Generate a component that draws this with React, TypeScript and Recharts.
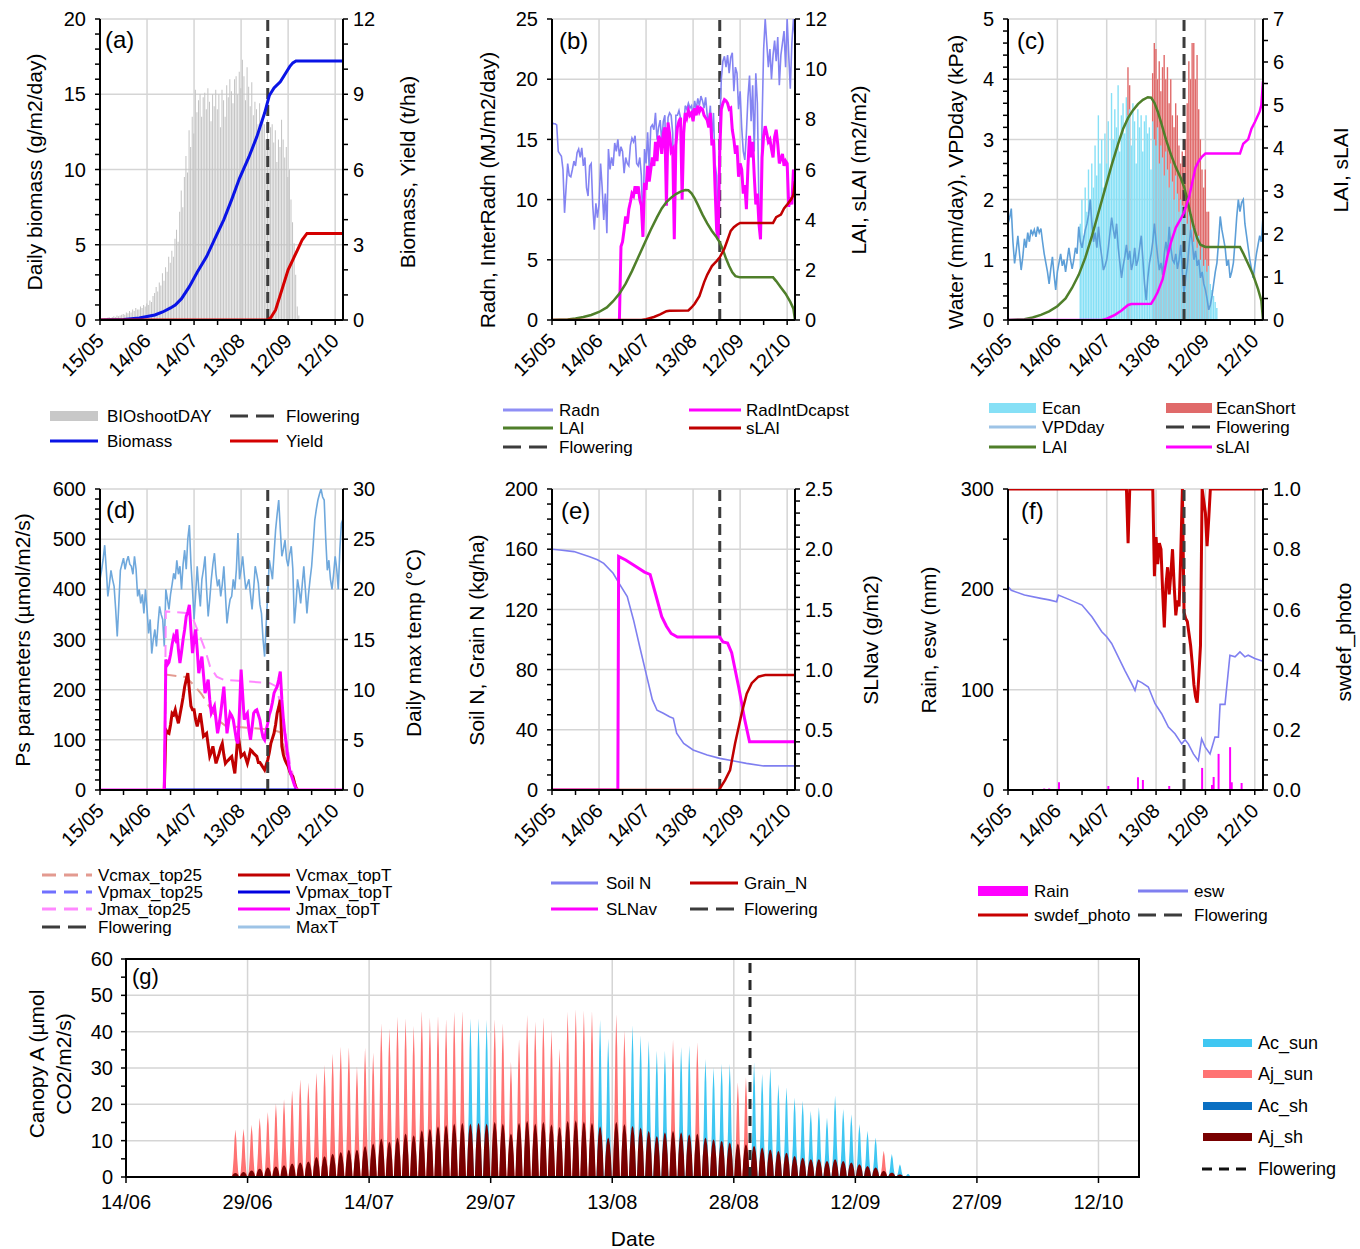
import React from 'react';
import {
  ComposedChart, Line, Bar, Area, XAxis, YAxis, CartesianGrid, ReferenceLine, ReferenceArea,
} from 'recharts';

const FONT = '"Liberation Sans", Arial, Helvetica, sans-serif';

// x axis = day of year (15/05 = 135)
const dayTicks = [135, 150, 165, 180, 195, 210, 225, 240, 255, 270, 285];
const labelDays = [135, 165, 195, 225, 255, 285];
const dayLabels = ['15/05', '14/06', '14/07', '13/08', '12/09', '12/10'];
const gridDays = [165, 195, 225, 255, 285];
const gTicks = [165, 180, 195, 210, 225, 240, 255, 270, 285];
const gLabels = ['14/06', '29/06', '14/07', '29/07', '13/08', '28/08', '12/09', '27/09', '12/10'];
const floweringDay = 242;

// (a) biomass
const bioStart = 138;
const bioShootDay = [
  0.1, 0.1, 0.15, 0.2, 0.1, 0.2, 0.25, 0.2, 0.3, 0.25, 0.3, 0.35,
  0.4, 0.35, 0.5, 0.45, 0.6, 0.5, 0.7, 0.6, 0.8, 0.7,
  0.7, 0.9, 0.8, 1.0, 0.9, 1.1, 1.0, 1.3, 1.2, 1.6,
  1.8, 2.2, 1.9, 2.5, 2.3, 3.1, 2.6, 3.5, 3.2, 4.2,
  3.8, 4.6, 4.2, 5.4, 6.0, 5.2, 7.2, 8.6, 7.5, 9.5,
  10.9, 9.8, 12.6, 11.5, 13.5, 12.4, 15.3, 13.8, 14.6, 15.0,
  13.5, 14.8, 15.1, 14.0, 15.4, 14.5, 13.2, 15.0, 14.2, 15.3,
  14.0, 15.0, 12.8, 15.3, 14.6, 13.5, 15.6, 14.8, 16.0, 15.2,
  14.4, 16.0, 16.2, 15.0, 16.5, 15.4, 17.3, 16.2, 14.6, 16.8,
  15.5, 14.2, 15.8, 13.6, 14.5, 14.0, 13.0, 14.4, 12.8, 13.3,
  13.0, 12.0, 13.3, 11.5, 12.8, 13.0, 11.8, 12.6, 10.5, 12.0,
  11.5, 13.3, 12.0, 10.8, 11.5, 9.5, 10.0, 8.0, 6.5, 5.1, 3.0, 0.9, 0.3,
];
const biomassDays = [135, 150, 160, 170, 175, 180, 183, 187, 192, 197, 203, 208, 214, 219, 224, 230, 235, 240, 243, 246, 250, 253, 256, 258, 260, 290];
const biomassVals = [0, 0.02, 0.08, 0.2, 0.32, 0.48, 0.6, 0.85, 1.33, 1.9, 2.53, 3.2, 4.0, 4.8, 5.65, 6.5, 7.3, 8.25, 8.95, 9.25, 9.5, 9.8, 10.1, 10.25, 10.33, 10.33];
const yieldDays = [135, 242, 244, 247, 251, 255, 258, 261, 264, 267, 290];
const yieldVals = [0, 0, 0.1, 0.4, 1.2, 2.0, 2.4, 2.8, 3.2, 3.45, 3.45];

// (b) radiation, LAI
const radn = [
  16.4, 16.3, 16.3, 16.2, 14.0, 13.8, 13.6, 12.5, 8.9, 11.0,
  13.0, 12.0, 11.9, 12.5, 13.2, 12.8, 13.9, 14.2, 13.5, 14.3,
  12.8, 13.5, 11.0, 10.3, 12.8, 13.0, 9.5, 7.5, 9.7, 8.5,
  9.6, 13.0, 11.0, 8.3, 10.5, 7.2, 14.2, 12.5, 13.5, 12.8,
  14.7, 14.0, 15.0, 13.6, 14.4, 14.0, 12.2, 13.5, 13.0, 12.8,
  14.5, 15.1, 14.8, 15.3, 13.0, 12.8, 13.5, 12.0, 7.5, 14.2,
  13.0, 15.6, 12.5, 16.0, 16.2, 15.8, 17.2, 15.0, 16.0, 16.6,
  14.8, 16.5, 17.0, 10.0, 16.8, 17.2, 17.0, 15.5, 7.0, 17.0,
  17.0, 17.4, 16.8, 10.5, 16.0, 17.8, 17.5, 18.0, 17.6, 17.8,
  17.0, 18.2, 17.5, 18.4, 17.8, 18.6, 18.2, 17.6, 18.5, 17.0,
  16.5, 17.8, 15.0, 17.2, 13.0, 12.0, 8.0, 16.0, 20.0, 21.5,
  21.9, 21.0, 22.0, 20.5, 21.8, 22.2, 19.0, 21.0, 20.5, 17.5,
  19.0, 16.0, 14.0, 13.3, 15.5, 18.5, 20.3, 16.5, 19.5, 14.0,
  20.5, 18.0, 9.5, 7.2, 16.5, 22.5, 25.0, 23.0, 21.0, 22.5,
  20.0, 22.0, 23.2, 21.5, 23.5, 19.5, 22.0, 23.0, 24.0, 21.0,
  25.0, 22.0, 19.2, 23.0, 25.0, 23.5,
];
const radIntStart = 178;
const radIntDcapst = [
  0,
  6.1, 6.5, 7.5, 8.6, 8.0, 9.2, 9.8, 10.5, 10.3, 11.1,
  10.5, 11.1, 10.0, 9.5, 6.9, 11.4, 10.8, 12.8, 11.5, 12.5,
  13.5, 12.8, 14.8, 13.2, 15.3, 15.0, 13.8, 15.5, 16.0, 9.5,
  16.4, 15.5, 14.0, 14.2, 6.7, 14.5, 16.0, 16.5, 16.8, 10.0,
  15.5, 17.2, 16.8, 17.4, 17.0, 17.2, 16.5, 17.6, 17.0, 17.8,
  17.3, 17.6, 17.5, 17.0, 16.8, 16.6, 16.0, 17.2, 14.5, 15.0,
  11.0, 7.5, 6.7, 14.0, 17.5, 18.0, 18.3, 18.2, 18.0, 17.5,
  17.6, 15.8, 15.0, 13.8, 14.5, 11.9, 13.0, 12.5, 10.5, 11.2,
  9.2, 12.8, 15.3, 13.5, 14.8, 12.0, 9.6, 10.5, 8.0, 6.7,
  13.5, 15.3, 16.1, 15.5, 14.8, 15.0, 14.2, 13.5, 15.2, 15.8,
  14.6, 13.0, 13.4, 13.8, 12.8, 13.2, 13.0, 9.4, 10.2, 9.6,
  12.5, 11.5,
];
const laiDays = [135, 145, 150, 155, 160, 165, 170, 174, 178, 182, 186, 190, 194, 198, 202, 205, 208, 211, 214, 217, 220, 222, 224, 226, 228, 231, 234, 237, 240, 242, 244, 246, 248, 250, 252, 255, 276, 278, 281, 284, 287, 289, 290];
const laiVals = [0, 0.02, 0.06, 0.12, 0.2, 0.32, 0.5, 0.75, 1.05, 1.45, 1.95, 2.5, 3.05, 3.6, 4.1, 4.45, 4.7, 4.88, 5.02, 5.12, 5.18, 5.17, 5.05, 4.85, 4.6, 4.2, 3.85, 3.55, 3.3, 3.1, 2.8, 2.45, 2.15, 1.9, 1.75, 1.7, 1.7, 1.55, 1.3, 1.05, 0.72, 0.45, 0.0];
const slaiDays = [135, 192, 195, 200, 204, 208, 210, 222, 224, 226, 229, 232, 234, 237, 240, 242, 245, 247, 249, 251, 253, 255, 276, 278, 281, 283, 285, 288, 289, 290];
const slaiVals = [0, 0, 0.03, 0.12, 0.22, 0.35, 0.37, 0.38, 0.5, 0.65, 0.95, 1.5, 1.8, 2.15, 2.35, 2.5, 2.85, 3.2, 3.55, 3.7, 3.8, 3.87, 3.87, 4.1, 4.2, 4.45, 4.6, 4.85, 5.0, 5.55];

// (c) water
const ecanStart = 179;
const ecan = [
  1.6, 2.0, 1.4, 2.2, 1.8, 2.5, 2.0, 2.6, 2.2, 2.9,
  2.4, 3.4, 2.6, 3.0, 2.2, 3.1, 2.6, 3.3, 2.5, 3.77,
  3.0, 3.5, 3.2, 3.9, 2.8, 3.4, 3.6, 3.1, 3.7, 3.4,
  3.5, 2.9, 3.6, 3.3, 2.6, 3.5, 3.2, 3.4, 2.8, 3.3,
  3.4, 3.1, 3.2, 2.5, 3.3, 3.0, 2.9, 3.2, 2.6, 2.9,
  2.7, 2.4, 2.8, 2.5, 2.2, 2.6, 2.3, 2.0, 2.4, 2.1,
  1.8, 2.0, 1.9, 1.7, 1.9, 1.6, 1.8, 1.4, 1.7, 1.3,
  1.5, 1.2, 1.4, 1.0, 1.2, 0.9, 1.0, 0.8, 0.9, 0.6,
  0.5, 0.4, 0.3, 0.2,
];
const ecanShortStart = 208;
const ecanShort = [
  4.2, 3.9, 0, 0, 0, 0, 0, 0, 0, 0,
  0, 0, 0, 0, 0, 4.1, 4.6, 4.5, 4.0, 4.3,
  3.8, 4.2, 4.4, 4.0, 4.2, 3.6, 4.0, 3.4, 3.2, 3.6,
  3.4, 2.9, 2.6, 2.8, 2.6, 3.0, 3.6, 4.3, 4.0, 4.6,
  4.6, 4.0, 4.4, 3.5, 3.0, 2.5, 2.2, 2.5, 1.8, 1.8,
];
const vpdDay = [
  1.6, 1.7, 1.85, 1.3, 0.94, 1.15, 1.4, 1.1, 0.83, 1.05,
  1.35, 1.2, 1.45, 1.3, 1.5, 1.42, 1.5, 1.38, 1.55, 1.45,
  1.52, 1.3, 1.1, 0.95, 0.8, 0.6, 0.85, 1.05, 0.75, 0.5,
  0.8, 0.95, 1.1, 0.9, 1.0, 0.8, 1.0, 1.2, 1.0, 0.85,
  1.0, 1.2, 1.1, 1.55, 1.3, 1.2, 1.35, 1.5, 1.6, 1.75,
  2.0, 1.6, 1.3, 1.45, 1.2, 1.55, 1.25, 1.05, 0.83, 0.9,
  1.0, 1.2, 1.45, 1.7, 1.5, 1.35, 1.6, 1.2, 0.95, 0.7,
  0.9, 1.05, 1.25, 1.0, 1.15, 0.83, 0.95, 1.2, 0.9, 1.0,
  1.2, 1.4, 1.0, 0.6, 0.33, 0.7, 0.95, 1.1, 1.3, 1.6,
  1.3, 1.05, 0.83, 0.95, 0.75, 1.1, 1.3, 1.1, 1.55, 1.2,
  1.0, 0.95, 1.1, 0.85, 1.0, 1.25, 0.8, 0.45, 0.7, 0.9,
  1.2, 1.5, 1.3, 1.0, 1.15, 0.9, 1.0, 0.7, 0.8, 0.6,
  0.5, 0.35, 0.17, 0.25, 0.4, 0.6, 0.8, 0.95, 1.3, 1.72,
  1.5, 1.35, 1.2, 0.9, 1.0, 0.7, 0.8, 0.95, 1.3, 1.7,
  2.0, 1.8, 1.95, 2.0, 1.6, 1.4, 1.2, 1.0, 0.85, 0.7,
  0.9, 1.1, 1.25, 1.4, 1.3, 1.72,
];

// (d) photosynthesis parameters
const maxT = [
  21.0, 21.9, 23.0, 24.4, 22.0, 19.3, 20.5, 21.9, 21.0, 20.3,
  18.0, 15.3, 18.5, 21.9, 22.5, 23.1, 22.0, 22.8, 23.3, 22.5,
  22.3, 21.5, 23.3, 22.0, 19.3, 20.0, 18.6, 19.5, 17.6, 20.0,
  18.0, 15.6, 17.0, 13.6, 15.0, 16.0, 14.3, 16.5, 18.3, 17.5,
  17.0, 14.3, 20.0, 19.0, 18.0, 19.5, 20.5, 21.6, 21.0, 22.9,
  21.5, 22.3, 20.0, 22.5, 23.9, 22.0, 25.0, 26.4, 22.6, 20.0,
  17.0, 19.5, 22.3, 20.0, 18.3, 21.0, 22.0, 23.3, 20.0, 17.3,
  19.0, 21.0, 22.5, 23.6, 21.5, 20.3, 21.0, 19.3, 20.5, 22.3,
  19.5, 16.6, 18.0, 19.0, 19.3, 21.0, 20.0, 22.0, 25.6, 21.0,
  22.0, 23.3, 21.5, 20.0, 20.5, 21.0, 19.5, 18.0, 20.0, 22.3,
  21.5, 20.6, 18.5, 17.6, 15.0, 13.3, 16.5, 19.6, 22.9, 22.0,
  21.0, 23.5, 25.9, 27.5, 28.9, 26.0, 23.3, 24.0, 24.9, 23.0,
  22.3, 23.5, 24.3, 22.0, 16.6, 18.5, 21.0, 20.0, 18.6, 20.5,
  22.3, 20.0, 17.6, 19.5, 21.0, 22.3, 24.5, 26.9, 28.0, 28.9,
  29.5, 30.0, 29.2, 28.9, 25.0, 21.9, 22.9, 21.0, 20.0, 21.5,
  23.3, 22.0, 20.0, 24.0, 26.6, 27.0,
];
const psStart = 176;
const jmaxTopT = [
  0,
  260, 250, 255, 270, 290, 306, 300, 320, 280, 253,
  275, 300, 320, 346, 355, 369, 320, 273, 300, 320,
  280, 233, 250, 266, 230, 193, 205, 220, 180, 153,
  160, 167, 140, 113, 130, 153, 180, 206, 160, 113,
  135, 153, 148, 140, 120, 100, 93, 160, 240, 190,
  140, 148, 153, 120, 100, 125, 153, 158, 160, 150,
  140, 120, 105, 100, 118, 133, 150, 160, 175, 193,
  200, 206, 220, 236, 180, 140, 110, 87, 60, 40,
  30, 20, 10, 3, 0,
];
const vcmaxTopT = [
  0,
  120, 115, 113, 130, 153, 150, 160, 145, 133, 150,
  167, 185, 206, 220, 233, 200, 167, 160, 160, 140,
  127, 140, 153, 130, 107, 110, 113, 90, 67, 75,
  87, 70, 53, 63, 73, 85, 93, 70, 53, 57,
  60, 64, 67, 50, 33, 70, 113, 90, 67, 70,
  73, 63, 53, 65, 80, 77, 73, 70, 67, 55,
  55, 50, 45, 40, 50, 60, 75, 93, 103, 113,
  130, 153, 165, 180, 87, 70, 60, 53, 47, 37,
  30, 27, 15, 5, 0,
];
const jmax25Days = [176, 177, 190, 194.5, 198.8, 202, 205.2, 209.4, 213.7, 243.4, 247.7, 251.9, 256.2, 260.4];
const jmax25Vals = [0, 356, 353, 340, 306, 280, 246, 226, 220, 213, 206, 140, 53, 0];
const vcmax25Days = [176, 177, 190, 196, 200, 205, 210, 215, 225, 245, 250, 252, 256, 260];
const vcmax25Vals = [0, 230, 225, 205, 190, 165, 140, 128, 125, 120, 115, 90, 40, 0];
const vpmaxDays = [177, 260];
const vpmaxVals = [0, 0];

// (e) nitrogen
const soilNDays = [135, 140, 149, 159, 164, 168, 174, 178, 183, 187, 191, 195, 199, 202, 206, 210, 212.4, 214.5, 219, 225, 234, 242, 251, 259, 270, 290];
const soilNVals = [160, 159.5, 158.4, 155, 153, 150.6, 144, 137, 128.5, 113, 95, 77.5, 60, 53, 51, 48.7, 47.6, 37.7, 31, 26.6, 23.3, 21, 19.3, 17.7, 16, 16];
const slnDays = [135, 177, 177.5, 182, 188, 194, 197.6, 201, 205, 208, 211, 215, 242, 244, 247, 249.6, 254, 258, 261, 290];
const slnVals = [0, 0, 1.94, 1.91, 1.86, 1.81, 1.79, 1.63, 1.44, 1.36, 1.3, 1.27, 1.27, 1.23, 1.22, 1.14, 0.86, 0.58, 0.4, 0.4];
const grainNDays = [135, 241.5, 245.4, 248.6, 251.8, 256, 259.2, 262.4, 266.7, 271, 290];
const grainNVals = [0, 0, 6.6, 13.3, 31, 51, 64, 71, 75.3, 76.4, 76.4];

// (f) soil water
const rainDays = [157, 160, 166, 196, 214, 217, 233, 242, 253, 259, 260, 263, 268, 270, 271, 277, 281];
const rainVals = [1.5, 1.5, 7.7, 4, 12.7, 10, 4, 6.7, 22, 5, 13, 36, 1, 42.7, 7.7, 7, 1];
const eswDays = [135, 137, 145, 155, 160, 164.6, 165.6, 172, 180, 186, 192, 195, 198, 202, 206, 210.2, 212.2, 213.8, 216.3, 220.3, 224.4, 228.4, 232.5, 236.5, 240.6, 242.6, 244.6, 247.7, 250.7, 252.7, 254.8, 257.8, 260.8, 262.9, 263.9, 266.9, 269.9, 273, 276, 279, 281, 285, 290];
const eswVals = [202.7, 199, 194.3, 191, 189.5, 187.7, 194.3, 190, 184.3, 172.7, 157.7, 152.7, 146, 132.7, 119.3, 106, 99.3, 109, 107, 102.7, 86, 76, 62.7, 56, 46, 50, 46, 36, 29.3, 51, 43, 36, 52.7, 52.7, 85.3, 85.3, 134.3, 132.7, 137.7, 132.7, 134.3, 131, 128.3];
const swdefStart = 205;
const swdefPhoto = [
  1, 1, 1, 0.82, 1,
  1, 1, 1, 1, 1, 1, 1, 1, 1, 1, 1, 1, 1,
  1, 0.71, 0.84, 0.75, 0.82, 0.8, 0.66, 0.54, 0.68, 0.74,
  0.65, 0.72, 0.8, 0.68, 0.58, 0.63, 0.61, 0.78, 1.0, 0.59,
  0.57, 0.56, 0.52, 0.48, 0.42, 0.35, 0.31, 0.29, 0.38, 0.48,
  1.0, 0.96, 0.92, 0.81, 0.9, 1.0, 1.0,
];

// (g) canopy assimilation, daily peaks
const gStart = 178;
const sunPeak = [
  13.1, 13.3, 14.4, 16.3, 17.9, 20.2, 21.4, 23.9, 26.9, 26.0,
  28.7, 30.8, 34.0, 35.9, 35.7, 30.5, 35.6, 34.3, 42.3, 40.9,
  44.2, 43.7, 41.6, 45.7, 44.0, 44.4, 43.5, 45.5, 45.7, 43.7,
  43.7, 43.3, 43.5, 42.3, 31.7, 37.9, 44.6, 42.8, 44.0, 40.5,
  35.4, 45.5, 46.2, 45.8, 45.7, 43.3, 38.1, 44.8, 40.4, 41.8,
  39.0, 37.6, 34.8, 34.8, 37.8, 35.8, 36.2, 37.1, 32.5, 30.2,
  31.2, 31.2, 26.1, 27.5, 31.6, 28.4, 30.2, 25.6, 24.7, 21.9,
  21.0, 18.2, 19.2, 16.4, 22.4, 18.7, 17.3, 14.6, 12.7, 10.9,
  7.2, 6.3, 3.5, 0.9,
];
// limiting process of the sunlit peak each day: j = electron transport (Aj), c = Rubisco (Ac)
const sunLimit =
  'jjjjjjjjjjjjjjjjjjjjjjjjjjjjj' + 'ccc' + 'jjjjjjjjjjjjj' + 'cc' + 'jj' + 'ccccc' + 'j' + 'cc' + 'j' +
  'cccc' + 'jj' + 'cccccccccccccccc' + 'j' + 'ccc';
const shadePeak = [
  1.1, 1.4, 1.8, 2.3, 2.6, 2.9, 3.2, 3.7, 4.0, 4.3,
  5.5, 5.7, 6.4, 6.9, 7.5, 7.5, 8.5, 9.2, 10.6, 9.7,
  10.9, 12.0, 11.5, 12.9, 13.3, 14.0, 14.3, 14.7, 14.9, 14.7,
  14.9, 14.7, 15.2, 14.7, 12.0, 14.9, 15.5, 14.7, 15.2, 14.5,
  13.8, 15.5, 15.6, 15.3, 14.9, 14.0, 10.9, 15.2, 14.6, 14.1,
  13.6, 12.7, 11.3, 12.3, 12.7, 12.3, 11.8, 12.0, 10.9, 10.4,
  10.0, 9.5, 9.2, 9.0, 8.6, 8.1, 7.6, 7.2, 6.7, 5.8,
  5.3, 4.9, 4.9, 4.4, 4.9, 4.4, 4.0, 3.5, 3.0, 2.6,
  1.7, 1.2, 0.7, 0.3,
];
// within-day profile of one diurnal peak
const dayFrac = [0.05, 0.16, 0.28, 0.39, 0.5, 0.61, 0.72, 0.84, 0.95];
const sunShape = [0, 0.12, 0.4, 0.8, 1, 0.8, 0.4, 0.12, 0];
const shadeShape = [0, 0.5, 0.8, 0.95, 1, 0.95, 0.8, 0.5, 0];

type Pt = { x: number; y: number };
const pts = (xs: number[], ys: number[]): Pt[] => xs.map((x, i) => ({ x, y: ys[i] }));
const daily = (start: number, ys: number[]): Pt[] => ys.map((y, i) => ({ x: start + i, y }));

const bioTable = daily(bioStart, bioShootDay);
const ecanTable = ecan.map((v, i) => {
  const d = ecanStart + i;
  const k = d - ecanShortStart;
  return { x: d, ecan: v, short: k >= 0 && k < ecanShort.length ? ecanShort[k] : 0 };
});
const gTable = sunPeak.flatMap((p, i) =>
  dayFrac.map((f, k) => ({
    x: gStart + i + f,
    acSun: sunLimit[i] === 'c' ? p * sunShape[k] : 0,
    ajSun: sunLimit[i] === 'j' ? p * sunShape[k] : 0,
    acSh: 0,
    ajSh: shadePeak[i] * shadeShape[k],
  })),
);

// ---------- chart pieces ----------
type Rect = { x0: number; x1: number; y0: number; y1: number };
const RA: Rect = { x0: 100, x1: 343, y0: 19, y1: 320 };
const RB: Rect = { x0: 552, x1: 795, y0: 19, y1: 320 };
const RC: Rect = { x0: 1008, x1: 1263, y0: 19, y1: 320 };
const RD: Rect = { x0: 100, x1: 343, y0: 489, y1: 790 };
const RE: Rect = { x0: 552, x1: 795, y0: 489, y1: 790 };
const RF: Rect = { x0: 1008, x1: 1263, y0: 489, y1: 790 };
const RG: Rect = { x0: 126, x1: 1139, y0: 959, y1: 1177 };
const AXW = 60;

const Frame = ({ r, data, children, right = true, xh = 70 }: { r: Rect; data?: any[]; children: React.ReactNode; right?: boolean; xh?: number }) => (
  <div style={{ position: 'absolute', left: r.x0 - AXW, top: r.y0 - 10 }}>
    <ComposedChart
      width={r.x1 - r.x0 + AXW + (right ? AXW : 10)}
      height={r.y1 - r.y0 + 10 + xh}
      data={data}
      margin={{ top: 10, right: right ? 0 : 10, bottom: 0, left: 0 }}
    >
      {children}
    </ComposedChart>
  </div>
);

const renderDateTick = (props: any) => {
  const { x, y, payload } = props;
  const i = labelDays.indexOf(payload.value);
  if (i < 0) return <g />;
  const ax = x + 5;
  const ay = y + 15;
  return (
    <text x={ax} y={ay} transform={`rotate(-45 ${ax} ${ay})`} textAnchor="end" fontSize={20} fill="#000">
      {dayLabels[i]}
    </text>
  );
};

const dateAxis = () => (
  <XAxis type="number" dataKey="x" domain={[135, 290]} ticks={dayTicks} interval={0} allowDataOverflow
    tick={renderDateTick} tickSize={5} height={70}
    axisLine={{ stroke: '#000', strokeWidth: 2 }} tickLine={{ stroke: '#000', strokeWidth: 1.5 }} />
);

const valueAxis = (id: string, side: 'left' | 'right', max: number, step: number, labelStep: number, digits = 0) => {
  const ticks: number[] = [];
  for (let i = 0; i <= Math.round(max / step); i++) ticks.push(+(i * step).toFixed(4));
  const isLabel = (v: number) => Math.abs(v / labelStep - Math.round(v / labelStep)) < 1e-6;
  return (
    <YAxis yAxisId={id} orientation={side} type="number" domain={[0, max]} ticks={ticks} interval={0} allowDataOverflow
      width={AXW} tickSize={5} tickMargin={side === 'left' ? 9 : 5}
      tickFormatter={(v: number) => (isLabel(v) ? v.toFixed(digits) : '')}
      tick={{ fontSize: 20, fill: '#000' }}
      axisLine={{ stroke: '#000', strokeWidth: 2 }} tickLine={{ stroke: '#000', strokeWidth: 1.5 }} />
  );
};

const grid = (yId: string, hVals: number[], vVals: number[] = gridDays) => (
  <CartesianGrid yAxisId={yId} horizontalValues={hVals} verticalValues={vVals} stroke="#d5d5d5" strokeWidth={1.5} />
);

const flowering = (yId: string, color = '#3c3c3c', dash = '11 6') => (
  <ReferenceLine x={floweringDay} yAxisId={yId} stroke={color} strokeWidth={3} strokeDasharray={dash} />
);

const ln = (name: string, yId: string, data: Pt[], color: string, w: number, dash?: string, key?: string) => (
  <Line key={key} name={name} yAxisId={yId} data={data} dataKey="y" type="linear" stroke={color} strokeWidth={w}
    strokeDasharray={dash} dot={false} activeDot={false} isAnimationActive={false} />
);

const PanelA = () => (
  <Frame r={RA} data={bioTable}>
    {grid('l', [5, 10, 15, 20])}
    {dateAxis()}
    {valueAxis('l', 'left', 20, 1, 5)}
    {valueAxis('r', 'right', 12, 1, 3)}
    <Bar yAxisId="l" dataKey="y" fill="#c3c3c3" barSize={1} isAnimationActive={false} />
    {flowering('l')}
    {ln('Biomass', 'r', pts(biomassDays, biomassVals), '#0a14e6', 3)}
    {ln('Yield', 'r', pts(yieldDays, yieldVals), '#d40000', 3)}
  </Frame>
);

const PanelB = () => (
  <Frame r={RB}>
    {grid('l', [5, 10, 15, 20, 25])}
    {dateAxis()}
    {valueAxis('l', 'left', 25, 5, 5)}
    {valueAxis('r', 'right', 12, 1, 2)}
    {flowering('l')}
    {ln('Radn', 'l', daily(135, radn), '#8484f2', 1.6)}
    {ln('RadIntDcapst', 'l', daily(radIntStart, radIntDcapst), '#ff00ff', 3)}
    {ln('LAI', 'r', pts(laiDays, laiVals), '#4f7f2a', 2.5)}
    {ln('sLAI', 'r', pts(slaiDays, slaiVals), '#c00000', 2.5)}
  </Frame>
);

const PanelC = () => (
  <Frame r={RC} data={ecanTable}>
    {grid('l', [1, 2, 3, 4, 5])}
    {dateAxis()}
    <XAxis xAxisId="x2" type="number" dataKey="x" domain={[135, 290]} hide allowDataOverflow />
    {valueAxis('l', 'left', 5, 0.2, 1)}
    {valueAxis('r', 'right', 7, 0.5, 1)}
    <Bar xAxisId="x2" yAxisId="l" dataKey="short" fill="#e06a6a" barSize={1.4} isAnimationActive={false} />
    <Bar yAxisId="l" dataKey="ecan" fill="#86e0f6" barSize={1.4} isAnimationActive={false} />
    {ln('VPDday', 'l', daily(135, vpdDay), '#5d9fd8', 1.6)}
    {flowering('l')}
    {ln('LAI', 'r', pts(laiDays, laiVals), '#4f7f2a', 2.5)}
    {ln('sLAI', 'r', pts(slaiDays, slaiVals), '#ff00ff', 2.5)}
  </Frame>
);

const PanelD = () => (
  <Frame r={RD}>
    {grid('l', [100, 200, 300, 400, 500, 600])}
    {dateAxis()}
    {valueAxis('l', 'left', 600, 20, 100)}
    {valueAxis('r', 'right', 30, 5, 5)}
    {ln('MaxT', 'r', daily(135, maxT), '#6fa8dc', 1.6)}
    {ln('Vcmax_top25', 'l', pts(vcmax25Days, vcmax25Vals), '#e39a90', 2, '12 7')}
    {ln('Jmax_top25', 'l', pts(jmax25Days, jmax25Vals), '#ff88ff', 2, '12 7')}
    {ln('Vcmax_topT', 'l', daily(psStart, vcmaxTopT), '#c00000', 3)}
    {ln('Jmax_topT', 'l', [{ x: 135, y: 0 }, ...daily(psStart, jmaxTopT), { x: 290, y: 0 }], '#ff00ff', 3)}
    {ln('Vpmax_top25', 'l', pts(vpmaxDays, vpmaxVals), '#7070ff', 2, '12 7')}
    {ln('Vpmax_topT', 'l', pts(vpmaxDays, vpmaxVals), '#0000e0', 3)}
    {flowering('l')}
  </Frame>
);

const PanelE = () => (
  <Frame r={RE}>
    {grid('l', [40, 80, 120, 160, 200])}
    {dateAxis()}
    {valueAxis('l', 'left', 200, 10, 40)}
    {valueAxis('r', 'right', 2.5, 0.1, 0.5, 1)}
    {flowering('l')}
    {ln('Soil N', 'l', pts(soilNDays, soilNVals), '#7f7ff0', 1.6)}
    {ln('SLNav', 'r', pts(slnDays, slnVals), '#ff00ff', 3)}
    {ln('Grain_N', 'l', pts(grainNDays, grainNVals), '#c00000', 2.5)}
  </Frame>
);

const PanelF = () => (
  <Frame r={RF}>
    {grid('l', [100, 200, 300])}
    {dateAxis()}
    {valueAxis('l', 'left', 300, 50, 100)}
    {valueAxis('r', 'right', 1, 0.05, 0.2, 1)}
    {rainDays.map((d, i) => ln('Rain', 'l', [{ x: d, y: 0 }, { x: d, y: rainVals[i] }], '#ff00ff', 2, undefined, `rain${i}`))}
    {ln('esw', 'l', pts(eswDays, eswVals), '#7f7ff0', 1.6)}
    {ln('swdef_photo', 'r', [{ x: 135, y: 1 }, ...daily(swdefStart, swdefPhoto), { x: 290, y: 1 }], '#c80000', 3)}
    {flowering('l')}
  </Frame>
);

const PanelG = () => (
  <Frame r={RG} data={gTable} right={false} xh={40}>
    <CartesianGrid yAxisId="l" horizontalValues={[10, 20, 30, 40, 50]} verticalValues={gTicks.slice(1)} stroke="#d5d5d5" strokeWidth={1.5} />
    <XAxis type="number" dataKey="x" domain={[165, 290]} ticks={gTicks} interval={0} allowDataOverflow
      tickFormatter={(v: number) => gLabels[gTicks.indexOf(v)] ?? ''} tick={{ fontSize: 20, fill: '#000' }}
      tickSize={6} tickMargin={12} height={40}
      axisLine={{ stroke: '#000', strokeWidth: 2 }} tickLine={{ stroke: '#000', strokeWidth: 1.5 }} />
    <YAxis yAxisId="l" type="number" domain={[0, 60]} ticks={[0, 5, 10, 15, 20, 25, 30, 35, 40, 45, 50, 55, 60]} interval={0}
      width={AXW} tickSize={5} tickMargin={8} allowDataOverflow
      tickFormatter={(v: number) => (v % 10 === 0 ? String(v) : '')} tick={{ fontSize: 20, fill: '#000' }}
      axisLine={{ stroke: '#000', strokeWidth: 2 }} tickLine={{ stroke: '#000', strokeWidth: 1.5 }} />
    <Area yAxisId="l" dataKey="acSun" type="linear" stroke="none" fill="#3fc7f2" fillOpacity={1} isAnimationActive={false} />
    <Area yAxisId="l" dataKey="ajSun" type="linear" stroke="none" fill="#ff7373" fillOpacity={1} isAnimationActive={false} />
    <Area yAxisId="l" dataKey="acSh" type="linear" stroke="none" fill="#0a6fc2" fillOpacity={1} isAnimationActive={false} />
    <Area yAxisId="l" dataKey="ajSh" type="linear" stroke="none" fill="#780000" fillOpacity={1} isAnimationActive={false} />
    {flowering('l', '#2a2a2a', '10 7')}
    <ReferenceArea yAxisId="l" x1={165} x2={290} y1={0} y2={60} fill="none" stroke="#000" strokeWidth={2} ifOverflow="visible" />
  </Frame>
);

// ---------- text overlay ----------
const VTitle = ({ x, y, t, s = 21 }: { x: number; y: number; t: string; s?: number }) => (
  <text x={x} y={y} transform={`rotate(-90 ${x} ${y})`} textAnchor="middle" dominantBaseline="central" fontSize={s} fill="#000">{t}</text>
);

type Kind = 'line' | 'dash' | 'box';
const Leg = ({ x, y, w = 48, kind, color, label, tx, size = 17, dash = '18 8', h = 10 }:
  { x: number; y: number; w?: number; kind: Kind; color: string; label: string; tx: number; size?: number; dash?: string; h?: number }) => (
  <g>
    {kind === 'box'
      ? <rect x={x} y={y - h / 2} width={w} height={h} fill={color} />
      : <line x1={x} y1={y} x2={x + w} y2={y} stroke={color} strokeWidth={3} strokeDasharray={kind === 'dash' ? dash : undefined} />}
    <text x={tx} y={y} dominantBaseline="central" fontSize={size} fill="#000">{label}</text>
  </g>
);

const Overlay = () => (
  <svg width={1360} height={1249} style={{ position: 'absolute', left: 0, top: 0, pointerEvents: 'none' }}>
    <g fontSize={24} fill="#000">
      <text x={105} y={48}>(a)</text>
      <text x={559} y={49}>(b)</text>
      <text x={1017} y={49}>(c)</text>
      <text x={106} y={518}>(d)</text>
      <text x={561} y={519}>(e)</text>
      <text x={1021} y={519}>(f)</text>
      <text x={132} y={984} fontSize={22}>(g)</text>
    </g>

    <VTitle x={34} y={172} t="Daily biomass (g/m2/day)" />
    <VTitle x={407} y={172} t="Biomass, Yield (t/ha)" />
    <VTitle x={487} y={190} t="Radn, InterRadn (MJ/m2/day)" />
    <VTitle x={858} y={170} t="LAI, sLAI (m2/m2)" />
    <VTitle x={955} y={182} t="Water (mm/day), VPDday (kPa)" />
    <VTitle x={1340} y={170} t="LAI, sLAI" />
    <VTitle x={22} y={640} t="Ps parameters (µmol/m2/s)" />
    <VTitle x={413} y={643} t="Daily max temp (°C)" />
    <VTitle x={476} y={640} t="Soil N, Grain N (kg/ha)" />
    <VTitle x={870} y={640} t="SLNav (g/m2)" />
    <VTitle x={928} y={640} t="Rain, esw (mm)" />
    <VTitle x={1343} y={642} t="swdef_photo" />
    <VTitle x={36} y={1064} t="Canopy A (µmol" />
    <VTitle x={63} y={1064} t="CO2/m2/s)" />
    <text x={633} y={1238} textAnchor="middle" dominantBaseline="central" fontSize={21} fill="#000">Date</text>

    {/* legend (a) */}
    <Leg x={50} y={416} kind="box" color="#c8c8c8" label="BIOshootDAY" tx={107} />
    <Leg x={230} y={416} kind="dash" color="#3c3c3c" label="Flowering" tx={286} />
    <Leg x={50} y={441} kind="line" color="#0a14e6" label="Biomass" tx={107} />
    <Leg x={230} y={441} kind="line" color="#d40000" label="Yield" tx={286} />
    {/* legend (b) */}
    <Leg x={503} y={410} w={50} kind="line" color="#8f8ff5" label="Radn" tx={559} />
    <Leg x={689} y={410} w={52} kind="line" color="#ff00ff" label="RadIntDcapst" tx={746} />
    <Leg x={503} y={428} w={50} kind="line" color="#4f7f2a" label="LAI" tx={559} />
    <Leg x={689} y={428} w={52} kind="line" color="#c00000" label="sLAI" tx={746} />
    <Leg x={503} y={447} w={50} kind="dash" color="#3c3c3c" label="Flowering" tx={559} />
    {/* legend (c) */}
    <Leg x={989} y={408} w={47} kind="box" color="#86e0f6" label="Ecan" tx={1042} />
    <Leg x={1166} y={408} w={46} kind="box" color="#e06a6a" label="EcanShort" tx={1216} />
    <Leg x={989} y={427} w={47} kind="line" color="#9dc3e6" label="VPDday" tx={1042} />
    <Leg x={1166} y={427} w={46} kind="dash" color="#3c3c3c" label="Flowering" tx={1216} />
    <Leg x={989} y={447} w={47} kind="line" color="#4f7f2a" label="LAI" tx={1042} />
    <Leg x={1166} y={447} w={46} kind="line" color="#ff00ff" label="sLAI" tx={1216} />
    {/* legend (d) */}
    <Leg x={42} y={875} w={50} kind="dash" dash="14 8" color="#e39a90" label="Vcmax_top25" tx={98} />
    <Leg x={238} y={875} w={52} kind="line" color="#c00000" label="Vcmax_topT" tx={296} />
    <Leg x={42} y={892} w={50} kind="dash" dash="14 8" color="#7070ff" label="Vpmax_top25" tx={98} />
    <Leg x={238} y={892} w={52} kind="line" color="#0000e0" label="Vpmax_topT" tx={296} />
    <Leg x={42} y={909} w={50} kind="dash" dash="14 8" color="#ff88ff" label="Jmax_top25" tx={98} />
    <Leg x={238} y={909} w={52} kind="line" color="#ff00ff" label="Jmax_topT" tx={296} />
    <Leg x={42} y={927} w={50} kind="dash" color="#3c3c3c" label="Flowering" tx={98} />
    <Leg x={238} y={927} w={52} kind="line" color="#9dc3e6" label="MaxT" tx={296} />
    {/* legend (e) */}
    <Leg x={551} y={883} w={47} kind="line" color="#7f7ff0" label="Soil N" tx={606} />
    <Leg x={690} y={883} w={48} kind="line" color="#c00000" label="Grain_N" tx={744} />
    <Leg x={551} y={909} w={47} kind="line" color="#ff00ff" label="SLNav" tx={606} />
    <Leg x={690} y={909} w={48} kind="dash" color="#3c3c3c" label="Flowering" tx={744} />
    {/* legend (f) */}
    <Leg x={978} y={891} w={50} kind="box" color="#ff00ff" label="Rain" tx={1034} />
    <Leg x={1138} y={891} w={50} kind="line" color="#7f7ff0" label="esw" tx={1194} />
    <Leg x={978} y={915} w={50} kind="line" color="#c80000" label="swdef_photo" tx={1034} />
    <Leg x={1138} y={915} w={50} kind="dash" color="#3c3c3c" label="Flowering" tx={1194} />
    {/* legend (g) */}
    <Leg x={1203} y={1043} w={49} h={8} kind="box" color="#3fc7f2" label="Ac_sun" tx={1258} size={18} />
    <Leg x={1203} y={1074} w={49} h={8} kind="box" color="#ff7373" label="Aj_sun" tx={1258} size={18} />
    <Leg x={1203} y={1106} w={49} h={8} kind="box" color="#0a6fc2" label="Ac_sh" tx={1258} size={18} />
    <Leg x={1203} y={1137} w={49} h={8} kind="box" color="#780000" label="Aj_sh" tx={1258} size={18} />
    <Leg x={1202} y={1169} w={50} kind="dash" dash="10 7" color="#111" label="Flowering" tx={1258} size={18} />
  </svg>
);

export default function App() {
  return (
    <div style={{ position: 'absolute', left: 0, top: 0, width: 1360, height: 1249, background: '#fff', fontFamily: FONT }}>
      <PanelA />
      <PanelB />
      <PanelC />
      <PanelD />
      <PanelE />
      <PanelF />
      <PanelG />
      <Overlay />
    </div>
  );
}
